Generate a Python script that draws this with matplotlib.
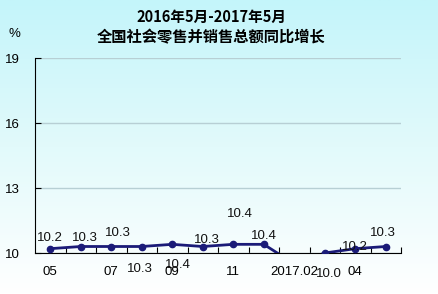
import numpy as np
import matplotlib
matplotlib.use("Agg")
import matplotlib.pyplot as plt
from matplotlib.colors import LinearSegmentedColormap

plt.rcParams['font.family'] = ['Liberation Sans', 'Noto Sans CJK SC', 'DejaVu Sans']

# data (2016.05 - 2017.05), Jan-Feb 2017 combined
months = ["05", "06", "07", "08", "09", "10", "11", "12", "2017.02", "03", "04", "05"]
values = [10.2, 10.3, 10.3, 10.3, 10.4, 10.3, 10.4, 10.4, 9.5, 10.0, 10.2, 10.3]
tick_labels = ["05", "", "07", "", "09", "", "11", "", "2017.02", "", "04", ""]
# label offsets in points (dx, dy) for the data labels
label_offsets = [(0, 8), (3, 6), (5, 10), (-1, -16), (4, -15), (3, 5), (5, 22), (0, 6),
                 None, (3, -15), (0, 1), (-2, 10)]

fig = plt.figure(figsize=(4.38, 2.94), dpi=100)

# background gradient: cyan at top fading to white at bottom
bg = fig.add_axes([0, 0, 1, 1], zorder=-10)
grad = np.linspace(0, 1, 256).reshape(-1, 1)
cmap = LinearSegmentedColormap.from_list("bg", ["#c4f5fa", "#e2fafb", "#ffffff"])
bg.imshow(grad, aspect="auto", cmap=cmap, extent=[0, 1, 0, 1], origin="upper")
bg.axis("off")

# axes area: x 35..401 px, y 58..253 px (of 438x294)
ax = fig.add_axes([35 / 438, (294 - 253) / 294, 366 / 438, 195 / 294])
ax.patch.set_alpha(0)

x = np.arange(len(months))
ax.plot(x, values, color="#1b1b78", lw=2, marker="o", ms=4.5, clip_on=True, zorder=3)

for i, v in enumerate(values):
    off = label_offsets[i]
    if off is None:
        continue
    ax.annotate(f"{v:.1f}", (x[i], v), xytext=off, textcoords="offset points",
                ha="center", va="center", fontsize=9.5, color="#111111",
                annotation_clip=False)

ax.set_xlim(-0.5, len(months) - 0.5)
ax.set_ylim(10, 19)
ax.set_yticks([10, 13, 16, 19])
ax.set_yticklabels(["10", "13", "16", "19"], fontsize=9.5)
ax.grid(axis="y", color="#b7cfd4", lw=1)
ax.set_axisbelow(True)

ax.set_xticks(x + 0.5, minor=False)
ax.set_xticklabels([])
ax.tick_params(axis="x", direction="in", length=4, color="black")
ax.tick_params(axis="y", direction="in", length=4, color="black", pad=11)
for i, t in enumerate(tick_labels):
    if t:
        ax.text(x[i], -0.065, t, transform=ax.get_xaxis_transform(), ha="center", va="top",
                fontsize=9.5)

for s in ["top", "right"]:
    ax.spines[s].set_visible(False)
ax.spines["left"].set_color("black")
ax.spines["bottom"].set_color("black")

fig.text(0.482, 0.942, "2016年5月-2017年5月", ha="center", va="center", fontsize=10.5,
         fontweight="bold", family=['Noto Sans CJK SC', 'DejaVu Sans'])
fig.text(0.482, 0.874, "全国社会零售并销售总额同比增长", ha="center", va="center", fontsize=11,
         fontweight="bold", family=['Noto Sans CJK SC', 'DejaVu Sans'])
fig.text(14 / 438, 1 - 34 / 294, "%", ha="center", va="center", fontsize=9.5)

fig.savefig("out.png", dpi=100)
